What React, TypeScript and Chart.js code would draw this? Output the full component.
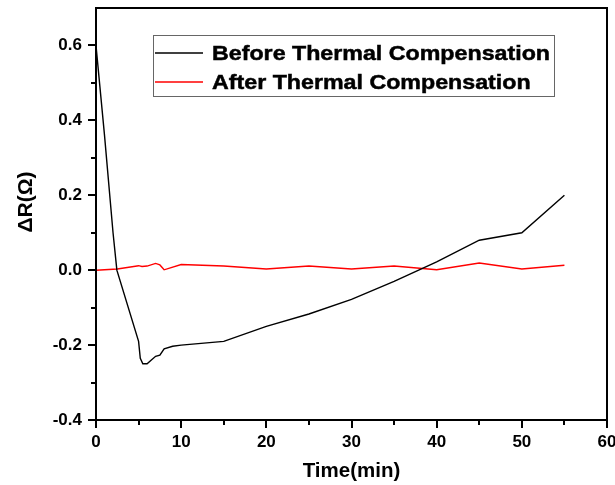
import React, { useEffect, useRef } from "react";
import { Chart, registerables } from "chart.js";

Chart.register(...registerables);

// ---- data ----
const beforeTime = [0, 1, 2, 2.45, 5, 5.2, 5.5, 6, 6.5, 7, 7.5, 8, 9, 10, 15, 20, 25, 30, 35, 40, 45, 50, 55];
const beforeValues = [0.6, 0.36, 0.1, 0.0, -0.19, -0.235, -0.25, -0.25, -0.24, -0.23, -0.227, -0.21, -0.203, -0.2, -0.19, -0.15, -0.117, -0.078, -0.03, 0.022, 0.08, 0.1, 0.2];

const afterTime = [0, 2.5, 5, 5.4, 6, 7, 7.5, 8, 10, 15, 20, 25, 30, 35, 40, 45, 50, 55];
const afterValues = [0, 0.003, 0.012, 0.01, 0.011, 0.018, 0.014, 0.001, 0.015, 0.011, 0.003, 0.011, 0.003, 0.011, 0.001, 0.019, 0.003, 0.013];

const seriesLabels = ["Before Thermal Compensation", "After Thermal Compensation"];
const seriesColors = ["#000000", "#ff0000"];

const xMajorTicks = [0, 10, 20, 30, 40, 50, 60];
const xMinorTicks = [5, 15, 25, 35, 45, 55];
const yMajorTicks = [-0.4, -0.2, 0, 0.2, 0.4, 0.6];
const yMinorTicks = [-0.3, -0.1, 0.1, 0.3, 0.5];

const xTitle = "Time(min)";
const yTitle = "ΔR(Ω)";

const FONT = "'Liberation Sans', Arial, sans-serif";

const zeroPad = (s: any) => {
  s.paddingTop = 0;
  s.paddingBottom = 0;
  s.paddingLeft = 0;
  s.paddingRight = 0;
};

const decorPlugin = {
  id: "decor",
  afterDraw(chart: any) {
    const ctx = chart.ctx;
    const { left, right, top, bottom } = chart.chartArea;
    const xs = chart.scales.x;
    const ys = chart.scales.y;
    ctx.save();
    // frame
    ctx.strokeStyle = "#000";
    ctx.lineWidth = 2;
    ctx.strokeRect(left, top, right - left, bottom - top);
    // ticks
    ctx.lineWidth = 2;
    ctx.beginPath();
    xMajorTicks.forEach((v) => {
      const px = Math.round(xs.getPixelForValue(v));
      ctx.moveTo(px, bottom);
      ctx.lineTo(px, bottom + 8);
    });
    xMinorTicks.forEach((v) => {
      const px = Math.round(xs.getPixelForValue(v));
      ctx.moveTo(px, bottom);
      ctx.lineTo(px, bottom + 5);
    });
    yMajorTicks.forEach((v) => {
      const py = Math.round(ys.getPixelForValue(v));
      ctx.moveTo(left, py);
      ctx.lineTo(left - 8, py);
    });
    yMinorTicks.forEach((v) => {
      const py = Math.round(ys.getPixelForValue(v));
      ctx.moveTo(left, py);
      ctx.lineTo(left - 5, py);
    });
    ctx.stroke();

    // axis titles
    ctx.fillStyle = "#000";
    ctx.font = `bold 20.5px ${FONT}`;
    ctx.textAlign = "center";
    ctx.textBaseline = "alphabetic";
    ctx.fillText(xTitle, (left + right) / 2, 477);
    ctx.save();
    ctx.translate(32, 202);
    ctx.rotate(-Math.PI / 2);
    ctx.font = `bold 21px ${FONT}`;
    ctx.fillText(yTitle, 0, 0);
    ctx.restore();

    // legend
    const lx = 153.5, ly = 35.5, lw = 401, lh = 61;
    ctx.strokeStyle = "#666";
    ctx.lineWidth = 1;
    ctx.strokeRect(lx, ly, lw, lh);
    const rows = [53, 82];
    const baselines = [60, 88.5];
    ctx.font = `bold 21px ${FONT}`;
    const w0 = ctx.measureText(seriesLabels[0]).width;
    const sx = 338 / w0;
    seriesLabels.forEach((lab, i) => {
      ctx.strokeStyle = seriesColors[i];
      ctx.lineWidth = 1.5;
      ctx.beginPath();
      ctx.moveTo(155, rows[i]);
      ctx.lineTo(203, rows[i]);
      ctx.stroke();
      ctx.save();
      ctx.translate(212, baselines[i]);
      ctx.scale(sx, 1);
      ctx.textAlign = "left";
      ctx.fillStyle = "#000";
      ctx.strokeStyle = "#000";
      ctx.lineWidth = 0.5;
      ctx.fillText(lab, 0, 0);
      ctx.strokeText(lab, 0, 0);
      ctx.restore();
    });
    ctx.restore();
  },
};

export default function App() {
  const ref = useRef<HTMLCanvasElement>(null);
  useEffect(() => {
    document.body.style.margin = "0";
    const canvas = ref.current;
    if (!canvas) return;
    const chart = new Chart(canvas, {
      type: "line",
      data: {
        datasets: [
          {
            label: seriesLabels[0],
            data: beforeTime.map((t, i) => ({ x: t, y: beforeValues[i] })),
            borderColor: seriesColors[0],
            borderWidth: 1.4,
            pointRadius: 0,
            tension: 0,
            fill: false,
          },
          {
            label: seriesLabels[1],
            data: afterTime.map((t, i) => ({ x: t, y: afterValues[i] })),
            borderColor: seriesColors[1],
            borderWidth: 1.4,
            pointRadius: 0,
            tension: 0,
            fill: false,
          },
        ],
      },
      options: {
        animation: false,
        responsive: false,
        devicePixelRatio: 1,
        layout: { autoPadding: false, padding: { top: 8, right: 8, left: 0, bottom: 0 } },
        plugins: {
          legend: { display: false },
          tooltip: { enabled: false },
        },
        scales: {
          x: {
            type: "linear",
            min: 0,
            max: 60,
            grid: { display: false, drawTicks: false },
            border: { display: false },
            afterBuildTicks: (s: any) => {
              s.ticks = xMajorTicks.map((v) => ({ value: v }));
            },
            afterFit: (s: any) => {
              s.height = 65;
              zeroPad(s);
            },
            ticks: {
              color: "#000",
              font: { family: FONT, size: 17, weight: "bold" },
              padding: 12,
              maxRotation: 0,
              callback: (v: any) => String(v),
            },
          },
          y: {
            type: "linear",
            min: -0.4,
            max: 0.7,
            grid: { display: false, drawTicks: false },
            border: { display: false },
            afterBuildTicks: (s: any) => {
              s.ticks = yMajorTicks.map((v) => ({ value: v }));
            },
            afterFit: (s: any) => {
              s.width = 96;
              zeroPad(s);
            },
            ticks: {
              color: "#000",
              font: { family: FONT, size: 17, weight: "bold" },
              padding: 14,
              callback: (v: any) => Number(v).toFixed(1),
            },
          },
        },
      },
      plugins: [decorPlugin],
    });
    return () => chart.destroy();
  }, []);
  return (
    <div style={{ width: 615, height: 485, background: "#fff" }}>
      <canvas ref={ref} width={615} height={485} />
    </div>
  );
}
